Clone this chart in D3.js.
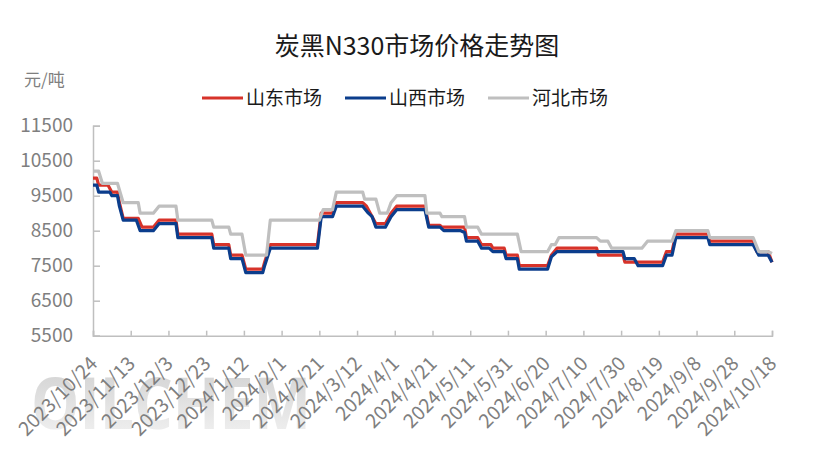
<!DOCTYPE html>
<html><head><meta charset="utf-8">
<script src="https://cdn.jsdelivr.net/npm/d3@7"></script>
<style>
html,body{margin:0;padding:0;background:#fff;}
svg{display:block;font-family:"Microsoft YaHei","Noto Sans CJK SC","Noto Sans",sans-serif;}
</style></head>
<body>
<svg id="c" width="815" height="461"></svg>
<script>
const title = "炭黑N330市场价格走势图";
const unitLabel = "元/吨";
const seriesNames = ["山东市场", "山西市场", "河北市场"];
const seriesColors = ["#d7332a", "#0b3d8c", "#bfbfbf"];
const yTicks = [5500, 6500, 7500, 8500, 9500, 10500, 11500];
const xTickLabels = ["2023/10/24","2023/11/13","2023/12/3","2023/12/23","2024/1/12","2024/2/1","2024/2/21","2024/3/12","2024/4/1","2024/4/21","2024/5/11","2024/5/31","2024/6/20","2024/7/10","2024/7/30","2024/8/19","2024/9/8","2024/9/28","2024/10/18"];

const shandong = [
["2023-10-24",10000],["2023-10-26",10000],["2023-10-27",9800],["2023-11-01",9800],["2023-11-03",9600],["2023-11-06",9600],["2023-11-07",9300],["2023-11-09",8850],["2023-11-17",8850],["2023-11-19",8600],["2023-11-25",8600],["2023-11-28",8800],["2023-12-07",8800],["2023-12-08",8400],["2023-12-26",8400],["2023-12-27",8100],["2024-01-04",8100],["2024-01-05",7800],["2024-01-11",7800],["2024-01-13",7400],["2024-01-22",7400],["2024-01-23",7600],["2024-01-26",8100],["2024-02-20",8100],["2024-02-22",9000],["2024-02-28",9000],["2024-03-01",9300],["2024-03-15",9300],["2024-03-17",9200],["2024-03-19",9000],["2024-03-22",8700],["2024-03-27",8700],["2024-03-30",9000],["2024-04-02",9200],["2024-04-17",9200],["2024-04-19",8650],["2024-04-25",8650],["2024-04-26",8600],["2024-05-08",8600],["2024-05-09",8300],["2024-05-15",8300],["2024-05-17",8100],["2024-05-22",8100],["2024-05-23",8000],["2024-05-29",8000],["2024-05-30",7800],["2024-06-05",7800],["2024-06-06",7500],["2024-06-21",7500],["2024-06-23",7800],["2024-06-26",8000],["2024-07-17",8000],["2024-07-18",7800],["2024-07-31",7800],["2024-08-01",7600],["2024-08-21",7600],["2024-08-23",7900],["2024-08-26",7900],["2024-08-28",8400],["2024-09-14",8400],["2024-09-15",8200],["2024-10-08",8200],["2024-10-10",7900],["2024-10-16",7900],["2024-10-18",7600]
];
const shanxi = [
["2023-10-24",9800],["2023-10-26",9800],["2023-10-27",9600],["2023-11-02",9600],["2023-11-03",9500],["2023-11-06",9500],["2023-11-07",9200],["2023-11-09",8800],["2023-11-16",8800],["2023-11-18",8500],["2023-11-25",8500],["2023-11-28",8700],["2023-12-07",8700],["2023-12-08",8300],["2023-12-26",8300],["2023-12-27",8000],["2024-01-04",8000],["2024-01-05",7700],["2024-01-11",7700],["2024-01-13",7300],["2024-01-22",7300],["2024-01-23",7500],["2024-01-26",8000],["2024-02-20",8000],["2024-02-22",8900],["2024-02-28",8900],["2024-03-01",9200],["2024-03-15",9200],["2024-03-18",9000],["2024-03-20",8900],["2024-03-22",8600],["2024-03-27",8600],["2024-03-30",8900],["2024-04-02",9100],["2024-04-17",9100],["2024-04-19",8600],["2024-04-25",8600],["2024-04-27",8500],["2024-05-06",8500],["2024-05-08",8450],["2024-05-09",8200],["2024-05-15",8200],["2024-05-17",8000],["2024-05-21",8000],["2024-05-23",7900],["2024-05-29",7900],["2024-05-30",7700],["2024-06-05",7700],["2024-06-06",7400],["2024-06-21",7400],["2024-06-23",7750],["2024-06-26",7900],["2024-07-31",7900],["2024-08-01",7700],["2024-08-06",7700],["2024-08-08",7500],["2024-08-21",7500],["2024-08-23",7800],["2024-08-26",7800],["2024-08-28",8300],["2024-09-14",8300],["2024-09-15",8100],["2024-10-08",8100],["2024-10-11",7800],["2024-10-16",7800],["2024-10-18",7600]
];
const hebei = [
["2023-10-24",10200],["2023-10-27",10200],["2023-10-29",9850],["2023-11-06",9850],["2023-11-09",9300],["2023-11-17",9300],["2023-11-18",9000],["2023-11-25",9000],["2023-11-28",9200],["2023-12-07",9200],["2023-12-08",8800],["2023-12-26",8800],["2023-12-27",8600],["2024-01-04",8600],["2024-01-05",8400],["2024-01-11",8400],["2024-01-13",7800],["2024-01-24",7800],["2024-01-26",8800],["2024-02-21",8800],["2024-02-23",9100],["2024-02-28",9100],["2024-03-01",9600],["2024-03-15",9600],["2024-03-16",9400],["2024-03-22",9400],["2024-03-24",9000],["2024-03-28",9000],["2024-03-30",9300],["2024-04-02",9500],["2024-04-17",9500],["2024-04-18",9000],["2024-04-25",9000],["2024-04-26",8900],["2024-05-08",8900],["2024-05-09",8600],["2024-05-15",8600],["2024-05-17",8400],["2024-06-05",8400],["2024-06-07",7900],["2024-06-21",7900],["2024-06-23",8100],["2024-06-25",8100],["2024-06-27",8300],["2024-07-17",8300],["2024-07-19",8200],["2024-07-23",8200],["2024-07-25",8000],["2024-08-10",8000],["2024-08-13",8200],["2024-08-26",8200],["2024-08-28",8500],["2024-09-14",8500],["2024-09-15",8300],["2024-10-08",8300],["2024-10-11",7900],["2024-10-16",7900],["2024-10-18",7850]
];

const parse = d3.utcParse("%Y-%m-%d");
const parseTick = d3.utcParse("%Y/%m/%d");
const svg = d3.select("#c");
const pLeft = 93, pRight = 772, pTop = 125.7, pBottom = 335.7;

const x = d3.scaleUtc().domain([parse("2023-10-24"), parse("2024-10-18")]).range([pLeft, pRight]);
const y = d3.scaleLinear().domain([5500, 11500]).range([pBottom, pTop]);

// watermark
const defs = svg.append("defs");
const grad = defs.append("linearGradient").attr("id","wm").attr("x1",0).attr("y1",0).attr("x2",0).attr("y2",1);
grad.append("stop").attr("offset","0%").attr("stop-color","#cccccc");
grad.append("stop").attr("offset","100%").attr("stop-color","#f6f6f6");
svg.append("text").attr("x",31).attr("y",429).attr("textLength",280).attr("lengthAdjust","spacingAndGlyphs")
  .attr("font-family","'Open Sans','DejaVu Sans',sans-serif").attr("font-weight","bold")
  .attr("font-size",72).attr("fill","url(#wm)").text("OILCHEM");

// title
svg.append("text").attr("x",417).attr("y",55).attr("text-anchor","middle").attr("font-size",25).attr("fill","#1a1a1a").text(title);
// unit
svg.append("text").attr("x",24).attr("y",86).attr("font-size",17).attr("fill","#7f7f7f").text(unitLabel);

// legend
const legendX = [202, 345, 488];
seriesNames.forEach((n,i)=>{
  svg.append("line").attr("x1",legendX[i]).attr("x2",legendX[i]+41).attr("y1",98).attr("y2",98)
    .attr("stroke",seriesColors[i]).attr("stroke-width",3);
  svg.append("text").attr("x",legendX[i]+44).attr("y",105).attr("font-size",19).attr("fill","#1a1a1a").text(n);
});

// y axis
const yAxis = d3.axisLeft(y).tickValues(yTicks).tickFormat(d3.format("d")).tickSize(-7).tickPadding(20);
const gy = svg.append("g").attr("transform",`translate(${pLeft},0)`).call(yAxis);
gy.select(".domain").attr("stroke","#bfbfbf").attr("stroke-width",1.5);
gy.selectAll(".tick line").attr("stroke","#bfbfbf").attr("stroke-width",1.5);
gy.selectAll(".tick text").attr("font-size",19).attr("fill","#7f7f7f").attr("font-family","'Microsoft YaHei','Noto Sans CJK SC',sans-serif");

// x axis
const xTicks = xTickLabels.map(s=>parseTick(s));
const xAxis = d3.axisBottom(x).tickValues(xTicks).tickFormat((d,i)=>xTickLabels[i]).tickSize(-5).tickPadding(6);
const gx = svg.append("g").attr("transform",`translate(0,${pBottom})`).call(xAxis);
gx.select(".domain").attr("stroke","#bfbfbf").attr("stroke-width",1.5);
gx.selectAll(".tick line").attr("stroke","#bfbfbf").attr("stroke-width",1.5);
gx.selectAll(".tick text").attr("font-size",19.5).attr("fill","#7f7f7f")
  .attr("font-family","'Microsoft YaHei','Noto Sans CJK SC',sans-serif")
  .attr("text-anchor","end").attr("dy",0)
  .attr("transform","translate(1,25) rotate(-45)");

// lines
const line = d3.line().x(d=>x(parse(d[0]))).y(d=>y(d[1]));
[shandong, shanxi, hebei].forEach((s,i)=>{
  svg.append("path").datum(s).attr("d",line).attr("fill","none")
    .attr("stroke",seriesColors[i]).attr("stroke-width",3.2).attr("stroke-linejoin","round");
});
</script>
</body></html>
